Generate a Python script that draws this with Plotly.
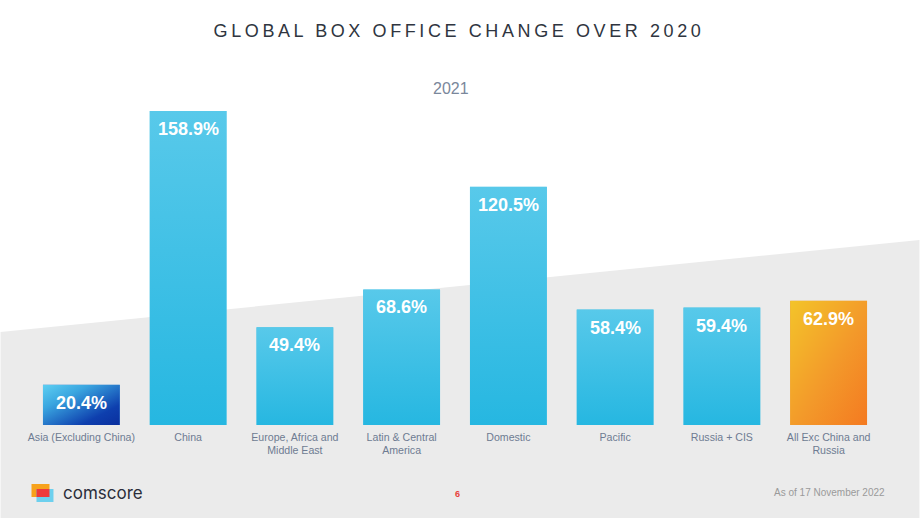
import base64
import plotly.graph_objects as go

# ---- data ----
categories = ["Asia (Excluding China)", "China", "Europe, Africa and<br>Middle East",
              "Latin & Central<br>America", "Domestic", "Pacific", "Russia + CIS",
              "All Exc China and<br>Russia"]
values = [20.4, 158.9, 49.4, 68.6, 120.5, 58.4, 59.4, 62.9]
styles = ["asia", "blue", "blue", "blue", "blue", "blue", "blue", "orange"]
subtitle = "2021"
title = "GLOBAL BOX OFFICE CHANGE OVER 2020"

W, H = 920, 518
ML, MR, MT, MB = 27.5, 37.5, 89, 93
PW, PH = W - ML - MR, H - MT - MB
BARGAP = 0.28
YMAX = 170


def px(x):
    return (x - ML) / PW


def py(y):
    return (H - MB - y) / PH


def grad_uri(stops, x2, y2):
    st = "".join(f'<stop offset="{o}" stop-color="{c}"/>' for o, c in stops)
    svg = (f'<svg xmlns="http://www.w3.org/2000/svg" width="100" height="100" '
           f'viewBox="0 0 100 100" preserveAspectRatio="none">'
           f'<defs><linearGradient id="g" x1="0" y1="0" x2="{x2}" y2="{y2}">{st}</linearGradient></defs>'
           f'<rect x="0" y="0" width="100" height="100" fill="url(#g)"/></svg>')
    return "data:image/svg+xml;base64," + base64.b64encode(svg.encode()).decode()


GRADS = {
    "blue": grad_uri([(0, "#58C9EA"), (1, "#26B7E1")], 0, 1),
    "asia": grad_uri([(0, "#5DCFF2"), (0.3, "#3AA6E0"), (0.75, "#0E3FAE"), (1, "#0A2F9E")], 1, 1),
    "orange": grad_uri([(0, "#F3C42A"), (0.55, "#F3992A"), (1, "#F47A21")], 1, 1),
}
SOLID = {"blue": "#3CBFE5", "asia": "#2E7FD0", "orange": "#F39A25"}

fig = go.Figure()
fig.add_trace(go.Bar(
    x=categories, y=values,
    marker=dict(color=[SOLID[s] for s in styles], line=dict(width=0)),
    hoverinfo="skip", showlegend=False,
))

images = []
annotations = []
for i, (c, v, s) in enumerate(zip(categories, values, styles)):
    images.append(dict(source=GRADS[s], xref="x", yref="y", x=i, y=v,
                       sizex=1 - BARGAP, sizey=v, xanchor="center", yanchor="top",
                       sizing="stretch", layer="above"))
    annotations.append(dict(x=c, y=v, xref="x", yref="y", text=f"{v}%", showarrow=False,
                            yanchor="top", yshift=-6,
                            font=dict(family="Liberation Sans, Arial", size=18,
                                      color="white", weight="bold")))

annotations += [
    dict(x=px(451), y=py(88), xref="paper", yref="paper", text=subtitle, showarrow=False,
         xanchor="center", yanchor="middle",
         font=dict(family="Liberation Sans, Arial", size=16, color="#7A879B")),
    dict(x=px(61), y=py(493), xref="paper", yref="paper", text="comscore", showarrow=False,
         xanchor="left", yanchor="middle",
         font=dict(family="Inter, Lato", size=17, color="#2A2E3A")),
    dict(x=px(458), y=py(494), xref="paper", yref="paper", text="6", showarrow=False,
         xanchor="center", yanchor="middle",
         font=dict(family="Liberation Sans, Arial", size=9, color="#E8413C", weight="bold")),
    dict(x=px(830), y=py(492), xref="paper", yref="paper", text="As of 17 November 2022",
         showarrow=False, xanchor="center", yanchor="middle",
         font=dict(family="Liberation Sans, Arial", size=10, color="#9A9A9A")),
]

shapes = [
    dict(type="path", xref="paper", yref="paper", layer="below",
         path=f"M {px(0)} {py(332)} L {px(920)} {py(240)} L {px(920)} {py(518)} L {px(0)} {py(518)} Z",
         fillcolor="#EBEBEB", line=dict(width=0)),
    # comscore logo
    dict(type="rect", xref="paper", yref="paper", layer="above",
         x0=px(31), x1=px(49), y0=py(484), y1=py(497), fillcolor="#F7A21B", line=dict(width=0)),
    dict(type="rect", xref="paper", yref="paper", layer="above",
         x0=px(36), x1=px(53), y0=py(489), y1=py(502), fillcolor="#6DD0EE", line=dict(width=0)),
    dict(type="rect", xref="paper", yref="paper", layer="above",
         x0=px(36), x1=px(49), y0=py(489), y1=py(497), fillcolor="#EE3B3B", line=dict(width=0)),
]

fig.update_layout(
    width=W, height=H,
    margin=dict(l=ML, r=MR, t=MT, b=MB, pad=0),
    paper_bgcolor="white", plot_bgcolor="rgba(0,0,0,0)",
    bargap=BARGAP,
    title=dict(text=title, x=px(459), xref="paper", xanchor="center",
               y=1 - 31 / H, yanchor="middle",
               font=dict(family="Liberation Sans, Arial", size=18, color="#2F3540")),
    xaxis=dict(showgrid=False, zeroline=False, showline=False, ticks="",
               ticklabelstandoff=4,
               tickfont=dict(family="Liberation Sans, Arial", size=10.6, color="#6E7B92"),
               fixedrange=True),
    yaxis=dict(range=[0, YMAX], visible=False, fixedrange=True),
    images=images, annotations=annotations, shapes=shapes,
)

fig.write_html("out.html", config={"displayModeBar": False},
               post_script="document.querySelectorAll('.gtitle').forEach(function(e){e.style.letterSpacing='3.6px';});")
